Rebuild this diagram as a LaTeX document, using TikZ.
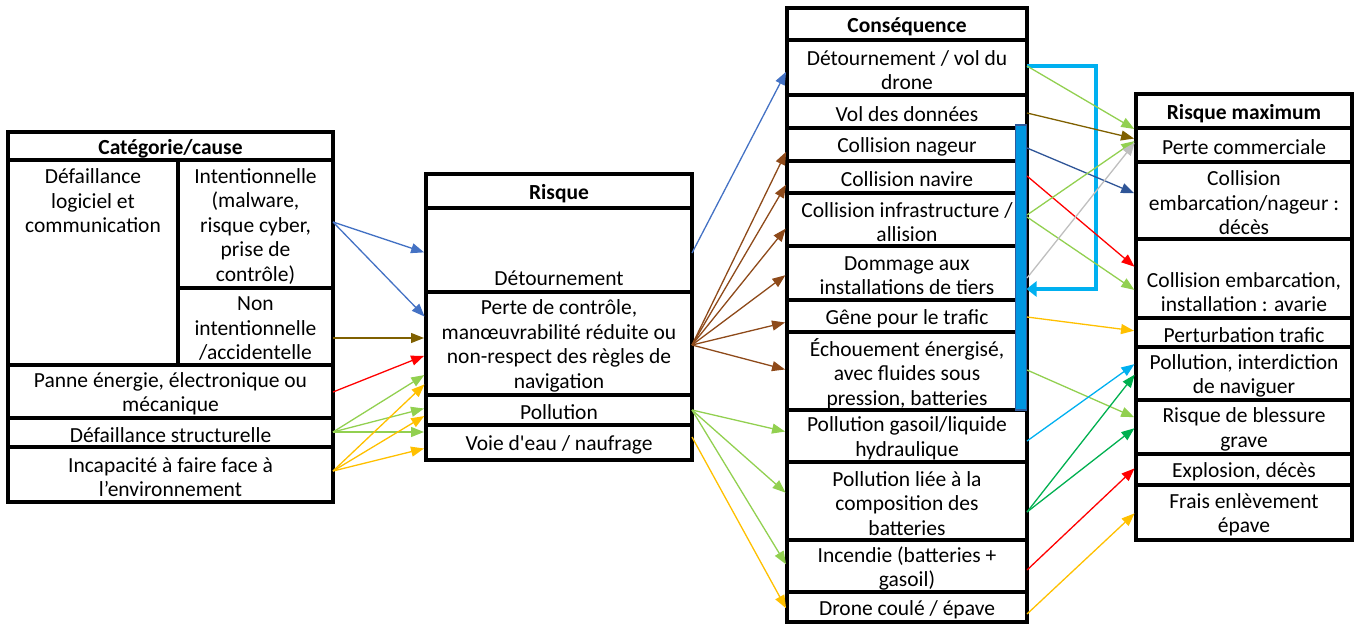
\documentclass[tikz,border=0pt]{standalone}
\usepackage{fontspec}
\setmainfont{Carlito}[Ligatures=TeXOff]
\usetikzlibrary{arrows.meta}
\definecolor{blueA}{HTML}{4472C4}
\definecolor{oliveB}{HTML}{7F6000}
\definecolor{redC}{HTML}{FF0000}
\definecolor{greenL}{HTML}{92D050}
\definecolor{yellowO}{HTML}{FFC000}
\definecolor{brownD}{HTML}{8E4A1A}
\definecolor{darkblueE}{HTML}{2F5597}
\definecolor{grayF}{HTML}{BFBFBF}
\definecolor{cyanG}{HTML}{00B0F0}
\definecolor{darkgreenH}{HTML}{00B050}
\definecolor{barfill}{HTML}{0096E0}
\definecolor{barline}{HTML}{2E5A9C}
\newcommand\cellfont{\fontsize{21.5pt}{24.5pt}\selectfont}
\newcommand\mycell[6]{\node[cellbox, minimum width={(#4-#2)*1pt}, minimum height={(#5-#3)*1pt}] (#1) at ({(#2+#4)/2},{(#3+#5)/2}) {};
  \node[txt, yshift=-2.5pt] (#1t) at (#1.center) {#6};}
\tikzset{
  cellbox/.style={draw=black, line width=4.5pt, inner sep=0pt, outer sep=0pt},
  txt/.style={inner sep=0pt, outer sep=0pt, align=center, font=\cellfont},
  arr/.style={line width=1.3pt, -{Triangle[length=13pt,width=10pt]}, shorten >=2pt},
  bracket/.style={line width=4pt, cyanG, -{Triangle[length=10pt,width=15pt]}}
}
\begin{document}
\begin{tikzpicture}[x=1pt, y=-1pt]
\useasboundingbox (0,0) rectangle (1357,625);
% Table 1
\mycell{cathead}{8}{132}{333}{160}{\bfseries Catégorie/cause}
\mycell{deflog}{8}{160}{178}{365}{}
\node[txt] (deflogt) at (93,201) {Défaillance\\logiciel et\\communication};
\mycell{intent}{178}{160}{333}{288}{Intentionnelle\\(malware,\\risque cyber,\\prise de\\contrôle)}
\mycell{nonint}{178}{288}{333}{365}{Non\\intentionnelle\\/accidentelle}
\mycell{panne}{8}{365}{333}{418}{Panne énergie, électronique ou\\mécanique}
\mycell{defstruct}{8}{418}{333}{447}{Défaillance structurelle}
\mycell{incap}{8}{447}{333}{502}{Incapacité à faire face à\\l’environnement}
% Table 2
\mycell{risqhead}{426}{174}{692}{208}{\bfseries Risque}
\mycell{detour}{426}{208}{692}{292}{}
\node[txt] (detourt) at (559,278) {Détournement};
\mycell{perte}{426}{292}{692}{395}{Perte de contrôle,\\manœuvrabilité réduite ou\\non-respect des règles de\\navigation}
\mycell{pollu}{426}{395}{692}{425}{Pollution}
\mycell{voie}{426}{425}{692}{460}{Voie d'eau / naufrage}
% Table 3
\mycell{conshead}{787}{8}{1027}{40}{\bfseries Conséquence}
\mycell{detvol}{787}{40}{1027}{95}{Détournement / vol du\\drone}
\mycell{vol}{787}{95}{1027}{128}{Vol des données}
\mycell{nageur}{787}{128}{1027}{161}{Collision nageur}
\mycell{navire}{787}{161}{1027}{193}{Collision navire}
\mycell{infra}{787}{193}{1027}{246}{Collision infrastructure /\\allision}
\mycell{dommage}{787}{246}{1027}{300}{Dommage aux\\installations de tiers}
\mycell{gene}{787}{300}{1027}{332}{Gêne pour le trafic}
\mycell{echou}{787}{332}{1027}{410}{Échouement énergisé,\\avec fluides sous\\pression, batteries}
\mycell{gasoil}{787}{410}{1027}{462}{Pollution gasoil/liquide\\hydraulique}
\mycell{batt}{787}{462}{1027}{540}{Pollution liée à la\\composition des\\batteries}
\mycell{incendie}{787}{540}{1027}{592}{Incendie (batteries +\\gasoil)}
\mycell{coule}{787}{592}{1027}{622}{Drone coulé / épave}
% Table 4
\mycell{maxhead}{1136}{94}{1352}{128}{\bfseries Risque maximum}
\mycell{commerc}{1136}{128}{1352}{162}{Perte commerciale}
\mycell{decesn}{1136}{162}{1352}{239}{Collision\\embarcation/nageur :\\décès}
\mycell{avarie}{1136}{239}{1352}{318}{}
\node[txt] (avariet) at (1244,292) {Collision embarcation,\\installation : avarie};
\mycell{perturb}{1136}{318}{1352}{347}{Perturbation trafic}
\mycell{pollint}{1136}{347}{1352}{400}{Pollution, interdiction\\de naviguer}
\mycell{blessure}{1136}{400}{1352}{454}{Risque de blessure\\grave}
\mycell{explo}{1136}{454}{1352}{485}{Explosion, décès}
\mycell{frais}{1136}{485}{1352}{540}{Frais enlèvement\\épave}
% blue bar
\node[draw=barline, fill=barfill, line width=1.2pt, inner sep=0pt, outer sep=0pt, minimum width=11pt, minimum height=285pt] (bar) at (1021,267.5) {};
% bracket
\draw[bracket] (detvol.east |- 0,66) -- (1096,66) -- (1096,289) -- (bar.east |- 0,289);
% arrows: cause -> risque
\draw[arr, blueA] (intent.east |- 0,222) -- (detour.west |- 0,253);
\draw[arr, blueA] (intent.east |- 0,222) -- (perte.west |- 0,318);
\draw[arr, oliveB] (nonint.east |- 0,338) -- (perte.west |- 0,338);
\draw[arr, redC] (panne.east |- 0,392) -- (perte.west |- 0,355);
\draw[arr, greenL] (defstruct.east |- 0,432) -- (perte.west |- 0,374);
\draw[arr, greenL] (defstruct.east |- 0,432) -- (pollu.west |- 0,408);
\draw[arr, greenL] (defstruct.east |- 0,432) -- (voie.west |- 0,432);
\draw[arr, yellowO] (incap.east |- 0,471) -- (perte.west |- 0,383);
\draw[arr, yellowO] (incap.east |- 0,471) -- (pollu.west |- 0,415);
\draw[arr, yellowO] (incap.east |- 0,471) -- (voie.west |- 0,448);
% risque -> consequence
\draw[arr, blueA] (detour.east |- 0,253) -- (detvol.west |- 0,70);
\draw[arr, brownD] (perte.east |- 0,345) -- (nageur.west |- 0,150);
\draw[arr, brownD] (perte.east |- 0,345) -- (navire.west |- 0,183);
\draw[arr, brownD] (perte.east |- 0,345) -- (infra.west |- 0,227);
\draw[arr, brownD] (perte.east |- 0,345) -- (dommage.west |- 0,274);
\draw[arr, brownD] (perte.east |- 0,345) -- (gene.west |- 0,322);
\draw[arr, brownD] (perte.east |- 0,345) -- (echou.west |- 0,370);
\draw[arr, greenL] (pollu.east |- 0,410) -- (gasoil.west |- 0,432);
\draw[arr, greenL] (pollu.east |- 0,410) -- (batt.west |- 0,494);
\draw[arr, greenL] (pollu.east |- 0,410) -- (incendie.west |- 0,566);
\draw[arr, yellowO] (voie.east |- 0,437) -- (coule.west |- 0,610);
% consequence -> risque max
\draw[arr, greenL] (detvol.east |- 0,66) -- (commerc.west |- 0,130);
\draw[arr, oliveB] (vol.east |- 0,113) -- (commerc.west |- 0,139);
\draw[arr, darkblueE] (nageur.east |- 0,148) -- (decesn.west |- 0,194);
\draw[arr, redC] (navire.east |- 0,176) -- (avarie.west |- 0,268);
\draw[arr, greenL] (infra.east |- 0,215) -- (commerc.west |- 0,140);
\draw[arr, greenL] (infra.east |- 0,217) -- (avarie.west |- 0,291);
\draw[arr, grayF] (dommage.east |- 0,278) -- (commerc.west |- 0,141);
\draw[arr, yellowO] (gene.east |- 0,317) -- (perturb.west |- 0,331);
\draw[arr, greenL] (echou.east |- 0,370) -- (blessure.west |- 0,418);
\draw[arr, cyanG] (gasoil.east |- 0,441) -- (pollint.west |- 0,363);
\draw[arr, darkgreenH] (batt.east |- 0,512) -- (pollint.west |- 0,373);
\draw[arr, darkgreenH] (batt.east |- 0,512) -- (blessure.west |- 0,427);
\draw[arr, redC] (incendie.east |- 0,570) -- (explo.west |- 0,467);
\draw[arr, yellowO] (coule.east |- 0,614) -- (frais.west |- 0,512);
\end{tikzpicture}
\end{document}
